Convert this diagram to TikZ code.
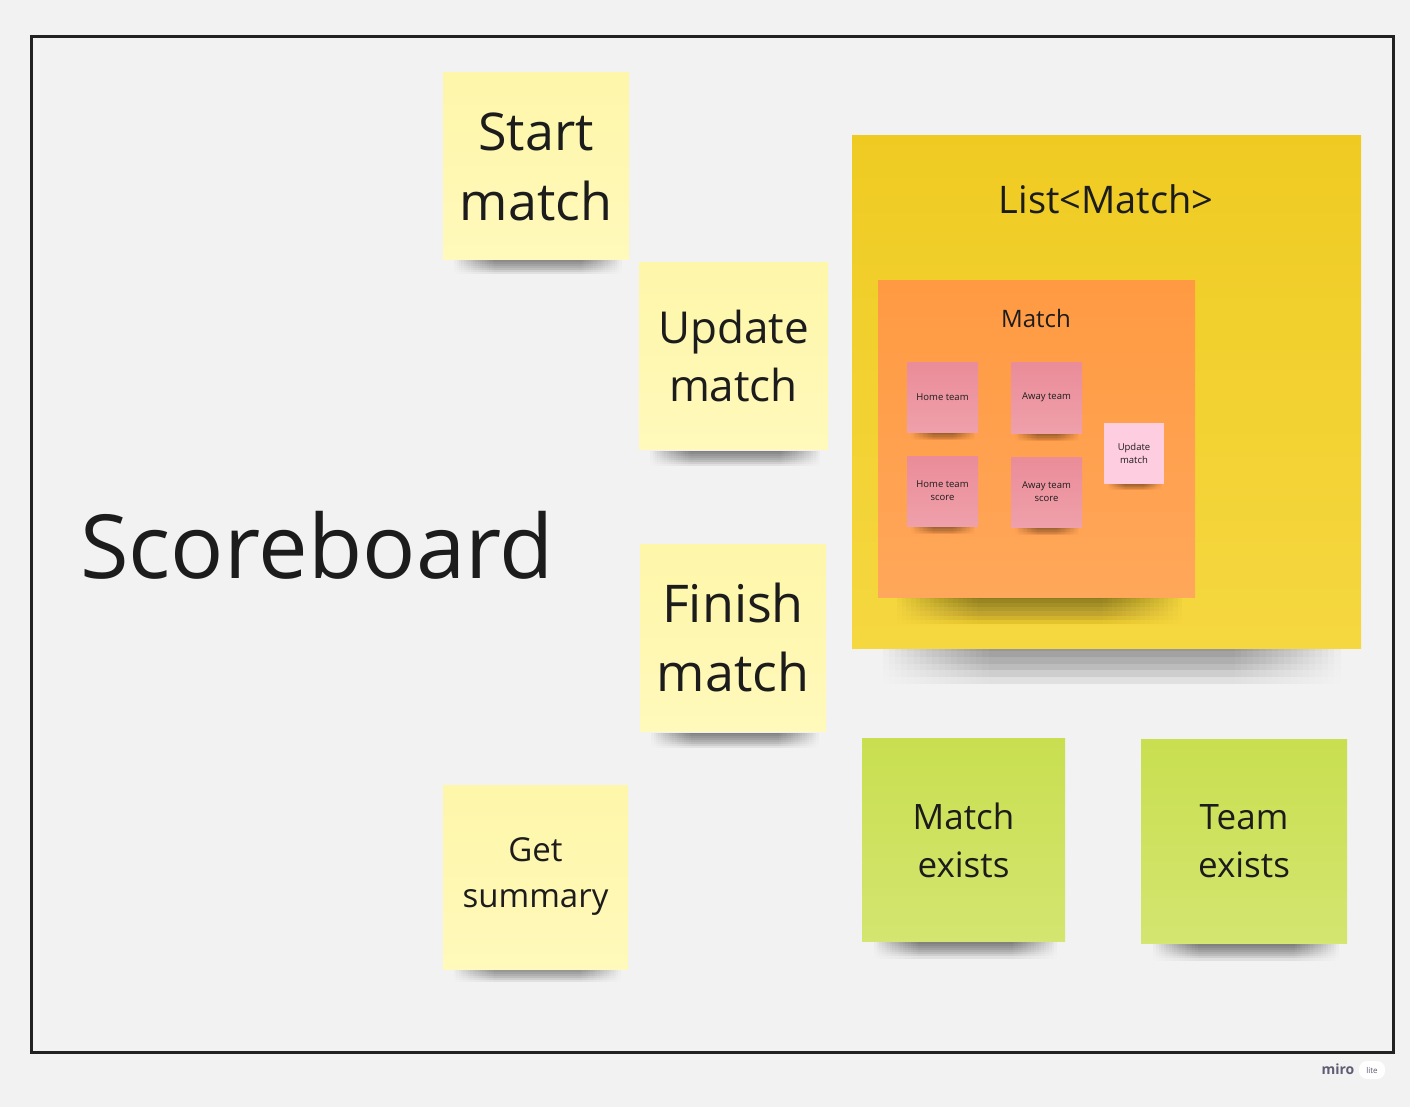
\documentclass[tikz,border=0pt]{standalone}
\usepackage{fontspec}
\setmainfont{Open Sans}
\usetikzlibrary{calc,fadings}
\definecolor{bgc}{HTML}{F2F2F2}
\definecolor{ink}{HTML}{1C1C1C}
\definecolor{framec}{HTML}{222222}
\definecolor{yelTop}{HTML}{FEF6A9}
\definecolor{yelBot}{HTML}{FFF9BB}
\definecolor{bigTop}{HTML}{EFCB22}
\definecolor{bigBot}{HTML}{F5D740}
\definecolor{orTop}{HTML}{FF9A42}
\definecolor{orBot}{HTML}{FFA75A}
\definecolor{pkTop}{HTML}{EA8C99}
\definecolor{pkBot}{HTML}{EFA0AA}
\definecolor{lpk}{HTML}{FFCDE0}
\definecolor{grTop}{HTML}{C9DF50}
\definecolor{grBot}{HTML}{D4E570}
\definecolor{mirogray}{HTML}{5F5C73}
\tikzset{
  note/.style={inner sep=0pt, outer sep=0pt, align=center, text=ink},
  yelnote/.style={note, top color=yelTop, bottom color=yelBot},
  grnote/.style={note, top color=grTop, bottom color=grBot},
  pknote/.style={note, top color=pkTop, bottom color=pkBot, font=\fontsize{9.5}{13}\selectfont},
  label/.style={inner sep=0pt, text=ink, anchor=base},
}
% soft shadow band below a note: x1, x2, bottom y, depth, opacity per layer
\newcommand\shad[5]{%
  \foreach \k in {0,...,17}{
    \fill[black,opacity=#5,path fading=south]
      ({#1+(#2-#1)*0.06+\k*#4*0.26},{#3-1}) rectangle
      ({#2-(#2-#1)*0.04-\k*#4*0.26},{#3+#4*1.6});
  }}
\begin{document}
\begin{tikzpicture}[x=1pt,y=-1pt]
\useasboundingbox (0,0) rectangle (1410,1107);
\fill[bgc] (0,0) rectangle (1410,1107);

% board frame
\node[draw=framec, line width=3pt, minimum width=1362pt, minimum height=1015pt, inner sep=0pt] (board) at (712,544.5) {};
\node[label, font=\fontsize{88.5}{100}\selectfont] (title) at (317,578) {Scoreboard};

% yellow sticky notes
\shad{443}{629}{260}{9}{0.032}
\node[yelnote, minimum width=186pt, minimum height=187pt, font=\fontsize{52}{70}\selectfont] (start) at (536,166.5) {Start\\match};
\shad{639}{828}{452}{9}{0.032}
\node[yelnote, minimum width=189pt, minimum height=187pt, font=\fontsize{44}{58}\selectfont] (update) at (733.5,356) {Update\\match};
\shad{640}{826}{734}{9}{0.032}
\node[yelnote, minimum width=186pt, minimum height=187pt, font=\fontsize{52}{69}\selectfont] (finish) at (733,637.5) {Finish\\match};
\shad{443}{628}{968}{9}{0.032}
\node[yelnote, minimum width=185pt, minimum height=184pt, font=\fontsize{33}{46}\selectfont] (summary) at (535.5,877) {Get\\summary};

% List<Match>
\shad{852}{1361}{648}{24}{0.024}
\node[note, top color=bigTop, bottom color=bigBot, minimum width=509pt, minimum height=512pt] (list) at (1106.5,392) {};
\node[label, font=\fontsize{38}{45}\selectfont] (listlbl) at (1106,214) {List<Match>};

% Match
\shad{878}{1195}{597}{18}{0.027}
\node[note, top color=orTop, bottom color=orBot, minimum width=317pt, minimum height=317pt] (match) at (1036.5,438.5) {};
\node[label, font=\fontsize{24}{28}\selectfont] (matchlbl) at (1036,327) {Match};

% pink notes
\shad{907}{978}{432}{5}{0.032}
\node[pknote, minimum width=71pt, minimum height=70pt] (home) at (942.5,397) {Home team};
\shad{1011}{1082}{433}{5}{0.032}
\node[pknote, minimum width=71pt, minimum height=71pt] (away) at (1046.5,397.5) {Away team};
\shad{907}{978}{526}{5}{0.032}
\node[pknote, minimum width=71pt, minimum height=70pt] (homescore) at (942.5,491) {Home team\\score};
\shad{1011}{1082}{527}{5}{0.032}
\node[pknote, minimum width=71pt, minimum height=70pt] (awayscore) at (1046.5,492) {Away team\\score};
\shad{1104}{1164}{484}{4}{0.027}
\node[note, fill=lpk, minimum width=60pt, minimum height=61pt, font=\fontsize{9.5}{13}\selectfont] (updsmall) at (1134,453.5) {Update\\match};

% green notes
\shad{862}{1065}{943}{10}{0.032}
\node[grnote, minimum width=203pt, minimum height=203pt, font=\fontsize{35}{48}\selectfont] (mexists) at (963.5,840) {Match\\exists};
\shad{1141}{1347}{945}{10}{0.032}
\node[grnote, minimum width=206pt, minimum height=204pt, font=\fontsize{35}{48}\selectfont] (texists) at (1244,841.5) {Team\\exists};

% miro badge
\node[inner sep=0pt, text=mirogray, font=\bfseries\fontsize{14}{16}\selectfont] (miro) at (1338,1069) {miro};
\node[fill=white, rounded corners=8pt, minimum width=26pt, minimum height=18pt, inner sep=0pt, text=mirogray, font=\fontsize{8}{9}\selectfont] (lite) at (1372,1070) {lite};
\end{tikzpicture}
\end{document}
